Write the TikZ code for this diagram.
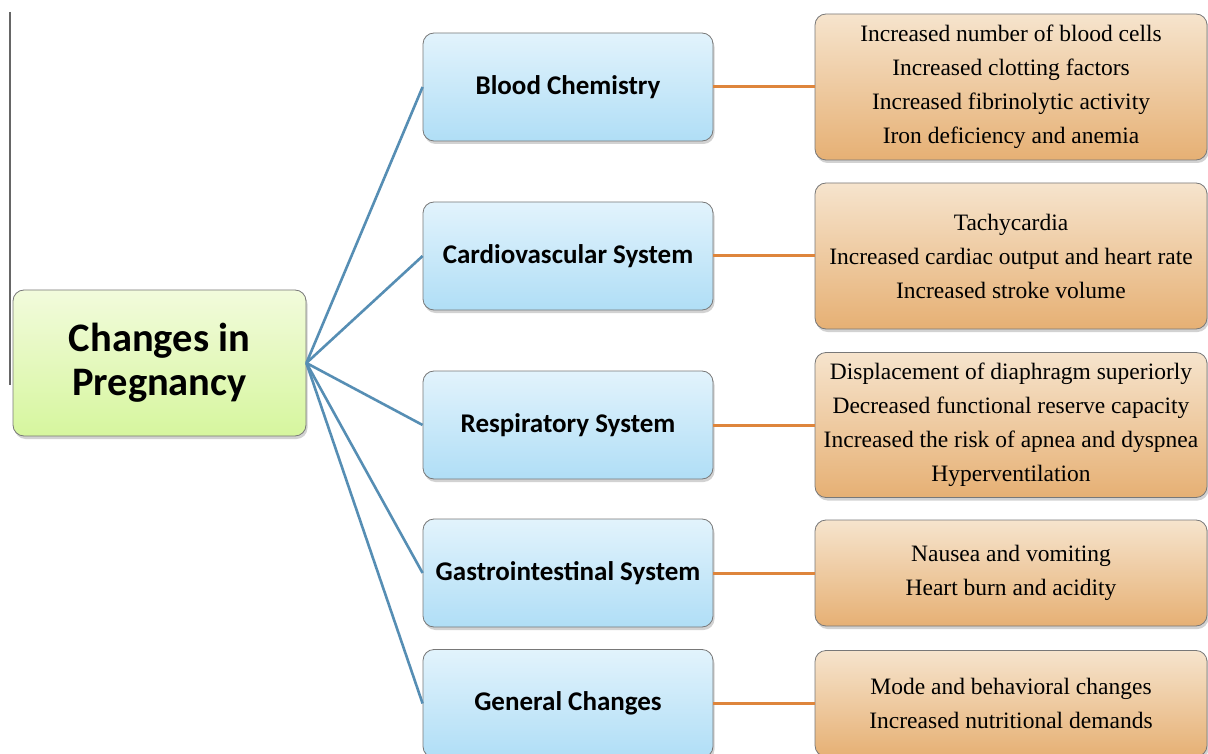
\documentclass[tikz,border=0pt]{standalone}
\usepackage{fontspec}
\usetikzlibrary{shadows}
\newfontfamily\carlitofont{Carlito}
\newfontfamily\timesfont{Liberation Serif}
\definecolor{bluetop}{RGB}{226,243,252}
\definecolor{bluebot}{RGB}{176,222,246}
\definecolor{greentop}{RGB}{242,251,220}
\definecolor{greenbot}{RGB}{214,246,158}
\definecolor{orgtop}{RGB}{246,228,205}
\definecolor{orgbot}{RGB}{230,176,116}
\definecolor{bline}{RGB}{86,142,180}
\definecolor{oline}{RGB}{222,133,60}
\definecolor{edge}{RGB}{120,120,120}
\tikzset{
  boxbase/.style={draw=edge, line width=0.8pt, rounded corners=11pt, align=center, inner sep=4pt,
    drop shadow={opacity=0.35, shadow xshift=1.5pt, shadow yshift=-3pt}},
  rootbox/.style={boxbase, top color=greentop, bottom color=greenbot, minimum width=293pt, minimum height=146pt,
    font=\carlitofont\bfseries\fontsize{40.5}{44}\selectfont},
  catbox/.style={boxbase, top color=bluetop, bottom color=bluebot, minimum width=290pt, minimum height=108pt,
    font=\carlitofont\bfseries\fontsize{27}{30}\selectfont},
  detbox/.style={boxbase, top color=orgtop, bottom color=orgbot, minimum width=392pt,
    font=\timesfont\fontsize{23.5}{34}\selectfont},
  bconn/.style={draw=bline, line width=2.6pt},
  oconn/.style={draw=oline, line width=3pt},
}
\begin{document}
\begin{tikzpicture}[x=1pt,y=-1pt]
\useasboundingbox (0,0) rectangle (1208,754);
\clip (0,0) rectangle (1208,754);
\fill[white] (0,0) rectangle (1208,754);
\coordinate (vt) at (10,12);
\coordinate (vb) at (10,385);
\draw[black!60, line width=1.3pt] (vt) -- (vb);

\node[rootbox] (root) at (159.5,363) {Changes in\\Pregnancy};

\node[catbox] (c1) at (568,87) {Blood Chemistry};
\node[catbox] (c2) at (568,256) {Cardiovascular System};
\node[catbox] (c3) at (568,425) {Respiratory System};
\node[catbox] (c4) at (568,573) {Gastrointestinal System};
\node[catbox] (c5) at (568,703.5) {General Changes};

\node[detbox, minimum height=146pt] (d1) at (1011,87) {Increased number of blood cells\\Increased clotting factors\\Increased fibrinolytic activity\\Iron deficiency and anemia};
\node[detbox, minimum height=146pt] (d2) at (1011,256) {Tachycardia\\Increased cardiac output and heart rate\\Increased stroke volume};
\node[detbox, minimum height=145pt] (d3) at (1011,425) {Displacement of diaphragm superiorly\\Decreased functional reserve capacity\\Increased the risk of apnea and dyspnea\\Hyperventilation};
\node[detbox, minimum height=106pt] (d4) at (1011,573) {Nausea and vomiting\\Heart burn and acidity};
\node[detbox, minimum height=106pt] (d5) at (1011,703.5) {Mode and behavioral changes\\Increased nutritional demands};

\foreach \i in {1,...,5}{
  \draw[bconn] (root.east) -- (c\i.west);
  \draw[oconn] (c\i.east) -- (d\i.west);
}
\end{tikzpicture}
\end{document}
